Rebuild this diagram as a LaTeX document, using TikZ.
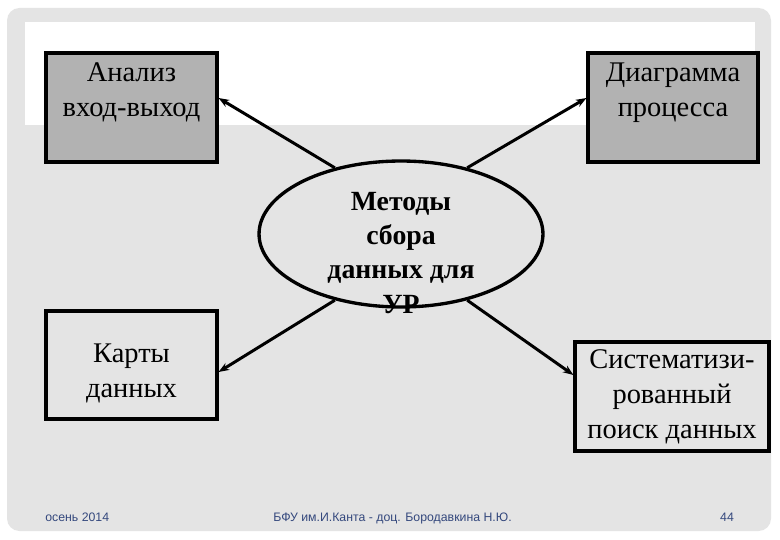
\documentclass[tikz,border=0pt]{standalone}
\usepackage{fontspec}
\setmainfont{Liberation Serif}
\newfontfamily\footfont{Liberation Sans}
\usetikzlibrary{shapes.geometric,arrows.meta}
\definecolor{slidegray}{RGB}{228,228,228}
\definecolor{boxgray}{RGB}{178,178,178}
\definecolor{footblue}{RGB}{52,72,125}
\tikzset{
  graybox/.style={
    draw,
    fill=boxgray,
    line width=1.8pt,
    inner sep=0pt,
    align=center,
    minimum height=2.18cm,
    font=\fontsize{16.2}{20}\selectfont
  },
  plainbox/.style={
    draw,
    line width=1.8pt,
    inner sep=0pt,
    align=center,
    minimum height=2.18cm,
    font=\fontsize{16.2}{20}\selectfont
  },
  methnode/.style={
    shape=ellipse,
    draw,
    fill=slidegray,
    line width=1.9pt,
    minimum width=5.68cm,
    minimum height=2.92cm
  },
  methtext/.style={
    align=center,
    inner sep=0pt,
    font=\bfseries\fontsize{15.8}{19.4}\selectfont
  },
  conn/.style={
    line width=1.7pt,
    -{Stealth[length=6pt,width=4.5pt]}
  },
  foot/.style={
    text=footblue,
    inner sep=0pt,
    font=\footfont\fontsize{7}{8}\selectfont
  }
}

\begin{document}
\begin{tikzpicture}[x=0.02cm,y=-0.02cm]
        \useasboundingbox (0,0) rectangle (780,540);
        \fill[white] (0,0) rectangle (780,540);
        \fill[slidegray, rounded corners=0.25cm] (7,8) rectangle (771,531);
        \fill[white] (25,22) rectangle (755,125);
        % the four methods and the centre
        \node[graybox, minimum width=3.42cm] (anal) at (131.5,107.5) {Анализ\\вход-выход\\~};
        \node[graybox, minimum width=3.40cm] (diag) at (673,107.5) {Диаграмма\\процесса\\~};
        \node[plainbox, minimum width=3.42cm, minimum height=2.16cm] (maps) at (131.5,365) {~\\Карты\\данных};
        \node[plainbox, minimum width=3.88cm] (sist) at (672,396.5) {Систематизи-\\рованный\\поиск данных};
        \node[methnode] (meth) at (401,234) {};
        \node[methtext] (methlabel) at (401,253) {Методы\\сбора\\данных для\\УР};
        \draw[conn] (meth.135) -- ([yshift=0.19cm]anal.east);
        \draw[conn] (meth.45) -- ([yshift=0.19cm]diag.west);
        \draw[conn] (meth.225) -- ([yshift=-0.14cm]maps.east);
        \draw[conn] (meth.315) -- ([yshift=0.43cm]sist.west);
        % footer
        \node[foot, anchor=base west] (date) at (45,521) {осень 2014};
        \node[foot, anchor=base west] (author) at (273,521) {БФУ им.И.Канта - доц. Бородавкина Н.Ю.};
        \node[foot, anchor=base] (page) at (727,521) {44};
\end{tikzpicture}
\end{document}
